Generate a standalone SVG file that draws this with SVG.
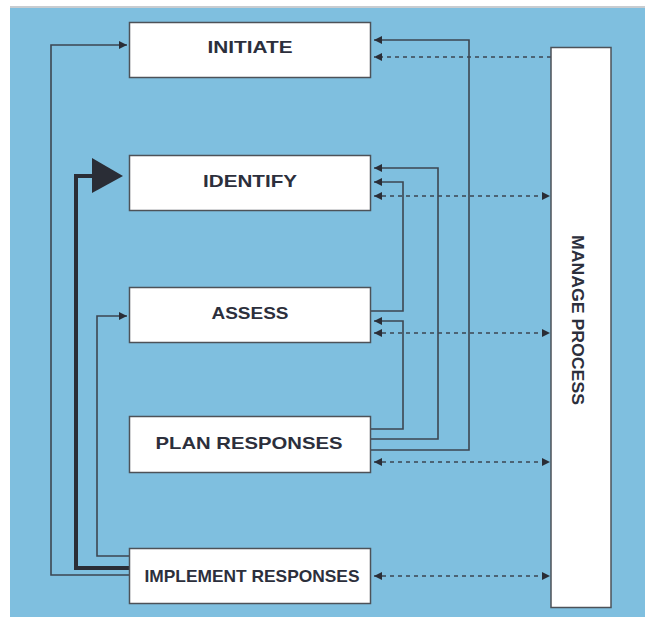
<svg xmlns="http://www.w3.org/2000/svg" width="645" height="617" viewBox="0 0 645 617">
<style>
.box{fill:#ffffff;stroke:#4d5258;stroke-width:1.5}
.lbl{font-family:"Liberation Sans",Arial,sans-serif;font-weight:bold;font-size:17px;fill:#2c2f3c;text-anchor:middle}
.ln{fill:none;stroke:#3d4651;stroke-width:1.6}
.dot{fill:none;stroke:#3d4651;stroke-width:1.6;stroke-dasharray:4 4}
.thick{fill:none;stroke:#2a2d36;stroke-width:4}
</style>
<defs>
<marker id="ah" markerUnits="userSpaceOnUse" markerWidth="9" markerHeight="9" refX="8" refY="4" orient="auto-start-reverse" viewBox="0 0 9 8">
<path d="M0,0 L8,4 L0,8 z" fill="#2a2d36"/>
</marker>
</defs>
<rect x="0" y="0" width="645" height="617" fill="#ffffff"/>
<rect x="10" y="8" width="635" height="609" fill="#7fbfdf"/>
<line x1="10" y1="7" x2="645" y2="7" stroke="#c8ccd0" stroke-width="2"/>

<g id="connectors">
<path class="ln" d="M130 575 H51 V45 H127" marker-end="url(#ah)"/>
<path class="thick" d="M130 568 H76 V176 H94"/>
<polygon points="92,158 123,176 92,193" fill="#2a2d36"/>
<path class="ln" d="M130 556 H97 V316 H127" marker-end="url(#ah)"/>
<path class="ln" d="M370 429 H403 V321 H374" marker-end="url(#ah)"/>
<path class="ln" d="M370 439 H438 V168 H374" marker-end="url(#ah)"/>
<path class="ln" d="M370 450 H469 V40 H374" marker-end="url(#ah)"/>
<path class="ln" d="M370 311 H403 V182 H374" marker-end="url(#ah)"/>
<path class="dot" d="M551 57 H374" marker-end="url(#ah)"/>
<path class="dot" d="M374 196 H550" marker-start="url(#ah)" marker-end="url(#ah)"/>
<path class="dot" d="M374 333 H550" marker-start="url(#ah)" marker-end="url(#ah)"/>
<path class="dot" d="M374 462 H550" marker-start="url(#ah)" marker-end="url(#ah)"/>
<path class="dot" d="M374 576 H550" marker-start="url(#ah)" marker-end="url(#ah)"/>
</g>

<g id="initiate">
<rect class="box" x="129.5" y="22.5" width="241" height="55"/>
<text class="lbl" x="250" y="53" textLength="85" lengthAdjust="spacingAndGlyphs">INITIATE</text>
</g>
<g id="identify">
<rect class="box" x="129.5" y="155.5" width="241" height="55"/>
<text class="lbl" x="250" y="187" textLength="94" lengthAdjust="spacingAndGlyphs">IDENTIFY</text>
</g>
<g id="assess">
<rect class="box" x="129.5" y="287.5" width="241" height="55"/>
<text class="lbl" x="250" y="319" textLength="77" lengthAdjust="spacingAndGlyphs">ASSESS</text>
</g>
<g id="plan-responses">
<rect class="box" x="129.5" y="416.5" width="241" height="56"/>
<text class="lbl" x="249" y="449" textLength="187" lengthAdjust="spacingAndGlyphs">PLAN RESPONSES</text>
</g>
<g id="implement-responses">
<rect class="box" x="129.5" y="548.5" width="241" height="55"/>
<text class="lbl" x="252" y="582" textLength="215" lengthAdjust="spacingAndGlyphs">IMPLEMENT RESPONSES</text>
</g>
<g id="manage-process">
<rect class="box" x="551" y="47.5" width="60" height="560"/>
<text class="lbl" transform="translate(572,320) rotate(90)" x="0" y="0" textLength="170" lengthAdjust="spacingAndGlyphs">MANAGE PROCESS</text>
</g>
</svg>
